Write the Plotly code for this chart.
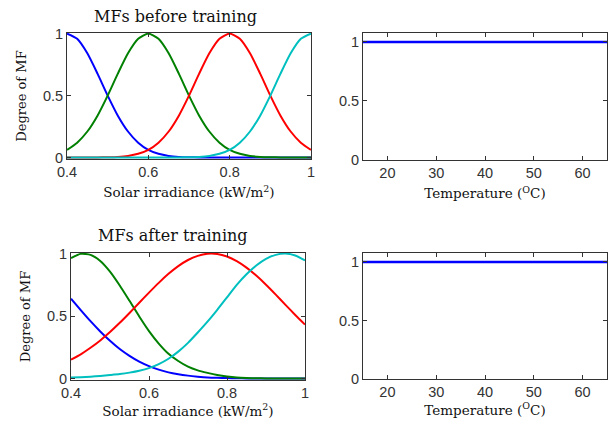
import plotly.graph_objects as go

# ---- data ----
irr = [0.400, 0.425, 0.450, 0.475, 0.500, 0.525, 0.550, 0.575, 0.600, 0.625,
       0.650, 0.675, 0.700, 0.725, 0.750, 0.775, 0.800, 0.825, 0.850, 0.875,
       0.900, 0.925, 0.950, 0.975, 1.000]

# MFs before training
pre_mf1 = [1.000, 0.958, 0.841, 0.677, 0.500, 0.338, 0.210, 0.120, 0.062, 0.030,
           0.013, 0.005, 0.002, 0.001, 0.000, 0.000, 0.000, 0.000, 0.000, 0.000,
           0.000, 0.000, 0.000, 0.000, 0.000]
pre_mf2 = [0.062, 0.120, 0.210, 0.338, 0.500, 0.677, 0.841, 0.958, 1.000, 0.958,
           0.841, 0.677, 0.500, 0.338, 0.210, 0.120, 0.062, 0.030, 0.013, 0.005,
           0.002, 0.001, 0.000, 0.000, 0.000]
pre_mf3 = [0.000, 0.000, 0.000, 0.001, 0.002, 0.005, 0.013, 0.030, 0.062, 0.120,
           0.210, 0.338, 0.500, 0.677, 0.841, 0.958, 1.000, 0.958, 0.841, 0.677,
           0.500, 0.338, 0.210, 0.120, 0.062]
pre_mf4 = [0.000, 0.000, 0.000, 0.000, 0.000, 0.000, 0.000, 0.000, 0.000, 0.000,
           0.000, 0.001, 0.002, 0.005, 0.013, 0.030, 0.062, 0.120, 0.210, 0.338,
           0.500, 0.677, 0.841, 0.958, 1.000]

# MFs after training
post_mf1 = [0.639, 0.548, 0.459, 0.377, 0.302, 0.236, 0.181, 0.135, 0.099, 0.071,
            0.049, 0.034, 0.023, 0.015, 0.009, 0.006, 0.004, 0.002, 0.001, 0.001,
            0.000, 0.000, 0.000, 0.000, 0.000]
post_mf2 = [0.965, 0.998, 0.990, 0.941, 0.856, 0.745, 0.622, 0.497, 0.380, 0.280,
            0.198, 0.140, 0.095, 0.065, 0.045, 0.028, 0.016, 0.008, 0.004, 0.002,
            0.001, 0.000, 0.000, 0.000, 0.000]
post_mf3 = [0.151, 0.194, 0.246, 0.305, 0.372, 0.446, 0.525, 0.607, 0.688, 0.766,
            0.838, 0.900, 0.949, 0.982, 0.999, 0.997, 0.977, 0.940, 0.888, 0.824,
            0.751, 0.672, 0.590, 0.509, 0.432]
post_mf4 = [0.008, 0.011, 0.015, 0.021, 0.028, 0.036, 0.047, 0.062, 0.083, 0.115,
            0.158, 0.215, 0.285, 0.368, 0.455, 0.550, 0.650, 0.750, 0.835, 0.905,
            0.958, 0.990, 1.000, 0.985, 0.945]

temp = [15, 65]
temp_mf = [1.0, 1.0]

irr_ticks = [0.4, 0.6, 0.8, 1.0]
irr_ticktext = ["0.4", "0.6", "0.8", "1"]
deg_ticks = [0, 0.5, 1]
deg_ticktext = ["0", "0.5", "1"]
temp_ticks = [20, 30, 40, 50, 60]

mf_colors = ["#0000FF", "#008000", "#FF0000", "#00BFBF"]

W, H = 613, 423


def dom_x(a, b):
    return [a / W, b / W]


def dom_y(top, bottom):
    return [1 - bottom / H, 1 - top / H]


fig = go.Figure()

pre = [pre_mf1, pre_mf2, pre_mf3, pre_mf4]
post = [post_mf1, post_mf2, post_mf3, post_mf4]

for ys, c in zip(pre, mf_colors):
    fig.add_trace(go.Scatter(x=irr, y=ys, mode="lines", xaxis="x", yaxis="y",
                             line=dict(color=c, width=2, shape="spline", smoothing=0.6),
                             showlegend=False))
fig.add_trace(go.Scatter(x=temp, y=temp_mf, mode="lines", xaxis="x2", yaxis="y2",
                         line=dict(color="#0000FF", width=2.5), showlegend=False))
for ys, c in zip(post, mf_colors):
    fig.add_trace(go.Scatter(x=irr, y=ys, mode="lines", xaxis="x3", yaxis="y3",
                             line=dict(color=c, width=2, shape="spline", smoothing=0.6),
                             showlegend=False))
fig.add_trace(go.Scatter(x=temp, y=temp_mf, mode="lines", xaxis="x4", yaxis="y4",
                         line=dict(color="#0000FF", width=2.5), showlegend=False))

tickfont = dict(family="Liberation Sans, Arial, sans-serif", size=14.5, color="#333")
serif = "DejaVu Serif, Liberation Serif, serif"
axcommon = dict(showline=True, linecolor="#333", linewidth=1, mirror="ticks",
                ticks="inside", ticklen=4, tickcolor="#333", showgrid=False,
                zeroline=False, tickfont=tickfont, automargin=False)


def xtitle(text, standoff):
    return dict(title=dict(text=text, font=dict(family=serif, size=13.5, color="#111"),
                           standoff=standoff))


yt_deg = dict(title=dict(text="Degree of MF",
                         font=dict(family=serif, size=13, color="#111"), standoff=13))

irr_title = "Solar irradiance (kW/m<sup>2</sup>)"
temp_title = "Temperature (<sup>O</sup>C)"

fig.update_layout(
    width=W, height=H, margin=dict(l=0, r=0, t=0, b=0),
    paper_bgcolor="white", plot_bgcolor="white",
    xaxis=dict(domain=dom_x(67, 311), range=[0.4, 1.0], tickvals=irr_ticks,
               ticktext=irr_ticktext, anchor="y", **axcommon, **xtitle(irr_title, 8)),
    yaxis=dict(domain=dom_y(33, 159), range=[-0.012, 1.005], tickvals=deg_ticks,
               ticktext=deg_ticktext, anchor="x", **axcommon, **yt_deg),
    xaxis2=dict(domain=dom_x(363, 607), range=[15, 65], tickvals=temp_ticks,
                anchor="y2", **axcommon, **xtitle(temp_title, 8)),
    yaxis2=dict(domain=dom_y(33, 160), range=[0, 1.076], tickvals=deg_ticks,
                ticktext=deg_ticktext, anchor="x2", **axcommon),
    xaxis3=dict(domain=dom_x(71, 305), range=[0.4, 1.0], tickvals=irr_ticks,
                ticktext=irr_ticktext, anchor="y3", **axcommon, **xtitle(irr_title, 5)),
    yaxis3=dict(domain=dom_y(253, 380), range=[-0.012, 1.005], tickvals=deg_ticks,
                ticktext=deg_ticktext, anchor="x3", **axcommon, **yt_deg),
    xaxis4=dict(domain=dom_x(363, 607), range=[15, 65], tickvals=temp_ticks,
                anchor="y4", **axcommon, **xtitle(temp_title, 5)),
    yaxis4=dict(domain=dom_y(253, 379), range=[0, 1.076], tickvals=deg_ticks,
                ticktext=deg_ticktext, anchor="x4", **axcommon),
    annotations=[
        dict(text="MFs before training", x=175 / W, y=1 - 16 / H, xref="paper",
             yref="paper", showarrow=False, xanchor="center", yanchor="middle",
             font=dict(family=serif, size=16, color="#111")),
        dict(text="MFs after training", x=173 / W, y=1 - 235 / H, xref="paper",
             yref="paper", showarrow=False, xanchor="center", yanchor="middle",
             font=dict(family=serif, size=16, color="#111")),
    ],
)

fig.write_html("out.html")
